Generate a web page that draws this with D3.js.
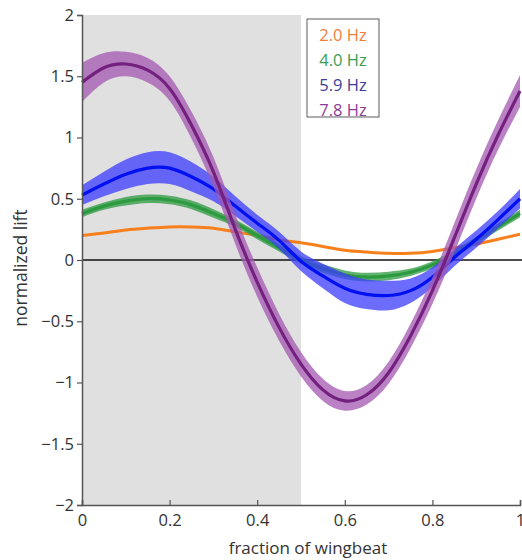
<!DOCTYPE html>
<html>
<head>
<meta charset="utf-8">
<title>Normalized lift</title>
<script src="https://d3js.org/d3.v7.min.js"></script>
<style>
    body { margin: 0; background: #fff; }
    text { font-family: "Open Sans", sans-serif; }
</style>
</head>
<body>
<script>
    // fraction of wingbeat sample points
    const phase = [0, 0.05, 0.1, 0.15, 0.2, 0.25, 0.3, 0.35, 0.4, 0.45, 0.5,
                   0.55, 0.6, 0.65, 0.7, 0.75, 0.8, 0.85, 0.9, 0.95, 1];

    const lift20 = [0.20, 0.22, 0.245, 0.26, 0.27, 0.27, 0.26, 0.23, 0.20, 0.165, 0.14,
                    0.11, 0.08, 0.065, 0.055, 0.055, 0.07, 0.10, 0.13, 0.17, 0.21];
    const lift40 = [0.38, 0.44, 0.48, 0.50, 0.49, 0.45, 0.38, 0.30, 0.20, 0.10, 0.0,
                    -0.07, -0.12, -0.14, -0.13, -0.10, -0.04, 0.05, 0.16, 0.27, 0.38];
    const lift59 = [0.53, 0.62, 0.70, 0.75, 0.75, 0.68, 0.58, 0.44, 0.30, 0.16, -0.01,
                    -0.13, -0.23, -0.28, -0.29, -0.25, -0.14, 0.02, 0.17, 0.33, 0.50];
    const lift78 = [1.45, 1.57, 1.60, 1.55, 1.40, 1.10, 0.72, 0.25, -0.18, -0.55, -0.85,
                    -1.06, -1.15, -1.10, -0.92, -0.62, -0.25, 0.18, 0.62, 1.02, 1.38];

    // half widths of the shaded spread
    const spread20 = [0.01, 0.01, 0.01, 0.01, 0.01, 0.01, 0.01, 0.01, 0.01, 0.01, 0.01,
                      0.01, 0.01, 0.01, 0.01, 0.01, 0.01, 0.01, 0.01, 0.01, 0.01];
    const spread40 = [0.03, 0.03, 0.035, 0.035, 0.035, 0.035, 0.035, 0.03, 0.03, 0.03, 0.03,
                      0.035, 0.035, 0.035, 0.035, 0.03, 0.03, 0.03, 0.03, 0.03, 0.03];
    const spread59 = [0.08, 0.1, 0.12, 0.13, 0.13, 0.12, 0.1, 0.08, 0.07, 0.07, 0.08,
                      0.1, 0.12, 0.12, 0.12, 0.1, 0.08, 0.07, 0.07, 0.07, 0.08];
    const spread78 = [0.16, 0.12, 0.1, 0.1, 0.1, 0.11, 0.12, 0.12, 0.12, 0.11, 0.1,
                      0.09, 0.08, 0.08, 0.09, 0.1, 0.11, 0.12, 0.12, 0.12, 0.13];

    const labels = ["2.0 Hz", "4.0 Hz", "5.9 Hz", "7.8 Hz"];
    const lineColors = ["#f8801c", "#2c9a3f", "#0010f0", "#73207f"];
    const bandColors = ["#f8801c", "#2c9a3f", "#3b3bff", "#a358b0"];
    const bandOpacity = [0.6, 0.75, 0.75, 0.75];
    const textColors = ["#ef7d3a", "#3a9c55", "#3a3d96", "#8b3c97"];

    const xTicks = [0, 0.2, 0.4, 0.6, 0.8, 1];
    const yTicks = [-2, -1.5, -1, -0.5, 0, 0.5, 1, 1.5, 2];

    const width = 522, height = 560;

    const x = d3.scaleLinear().domain([0, 1]).range([82, 520]);
    const y = d3.scaleLinear().domain([-2, 2]).range([505, 15]);

    const svg = d3.select("body").append("svg")
        .attr("width", width)
        .attr("height", height);

    // shaded first half of wingbeat
    svg.append("rect")
        .attr("x", x(0))
        .attr("y", y(2))
        .attr("width", x(0.5) - x(0))
        .attr("height", y(-2) - y(2))
        .attr("fill", "#e0e0e0");

    // zero line
    svg.append("line")
        .attr("x1", x(0)).attr("x2", width)
        .attr("y1", y(0)).attr("y2", y(0))
        .attr("stroke", "#111")
        .attr("stroke-width", 1.3);

    const series = [
        { mean: lift20, sd: spread20 },
        { mean: lift40, sd: spread40 },
        { mean: lift59, sd: spread59 },
        { mean: lift78, sd: spread78 }
    ];

    const area = d3.area()
        .x(function(d) { return x(d.p); })
        .y0(function(d) { return y(d.v - d.s); })
        .y1(function(d) { return y(d.v + d.s); })
        .curve(d3.curveNatural);

    const line = d3.line()
        .x(function(d) { return x(d.p); })
        .y(function(d) { return y(d.v); })
        .curve(d3.curveNatural);

    const plot = svg.append("g");

    series.forEach(function(s, i) {
        const pts = phase.map(function(p, j) { return { p: p, v: s.mean[j], s: s.sd[j] }; });
        if (i > 0) {
            plot.append("path")
                .datum(pts)
                .attr("d", area)
                .attr("fill", bandColors[i])
                .attr("fill-opacity", bandOpacity[i]);
        }
        plot.append("path")
            .datum(pts)
            .attr("d", line)
            .attr("fill", "none")
            .attr("stroke", lineColors[i])
            .attr("stroke-width", i === 0 ? 3 : 3.2);
    });

    // axes
    const yAxis = svg.append("g")
        .attr("transform", "translate(" + x(0) + ",0)")
        .call(d3.axisLeft(y).tickValues(yTicks).tickSize(5).tickPadding(3)
            .tickFormat(function(d) { return String(d).replace("-", "\u2212"); }));
    yAxis.select(".domain").attr("stroke", "#555").attr("stroke-width", 1.5);
    yAxis.selectAll(".tick line").attr("stroke", "#555").attr("stroke-width", 1.2);
    yAxis.selectAll(".tick text").attr("fill", "#333").style("font-size", "16.5px");

    const xAxis = svg.append("g")
        .attr("transform", "translate(0," + y(-2) + ")")
        .call(d3.axisBottom(x).tickValues(xTicks).tickSize(-5).tickPadding(9)
            .tickFormat(d3.format("")));
    xAxis.select(".domain").attr("stroke", "#555").attr("stroke-width", 1.5);
    xAxis.selectAll(".tick line").attr("stroke", "#555").attr("stroke-width", 1.2);
    xAxis.selectAll(".tick text").attr("fill", "#333").style("font-size", "16.5px");

    svg.append("text")
        .attr("x", 308)
        .attr("y", 554)
        .attr("text-anchor", "middle")
        .attr("fill", "#333")
        .style("font-size", "17px")
        .text("fraction of wingbeat");

    svg.append("text")
        .attr("transform", "translate(27," + (y(0) + 8) + ") rotate(-90)")
        .attr("text-anchor", "middle")
        .attr("fill", "#333")
        .style("font-size", "17.5px")
        .text("normalized lift");

    // legend
    const legend = svg.append("g");
    legend.append("rect")
        .attr("x", 307).attr("y", 19)
        .attr("width", 72).attr("height", 98)
        .attr("fill", "#fff")
        .attr("stroke", "#777")
        .attr("stroke-width", 1.2);
    legend.selectAll("text")
        .data(labels)
        .join("text")
        .attr("x", 343)
        .attr("y", function(d, i) { return 41 + i * 25; })
        .attr("text-anchor", "middle")
        .attr("fill", function(d, i) { return textColors[i]; })
        .style("font-size", "16.5px")
        .text(function(d) { return d; });
</script>
</body>
</html>
